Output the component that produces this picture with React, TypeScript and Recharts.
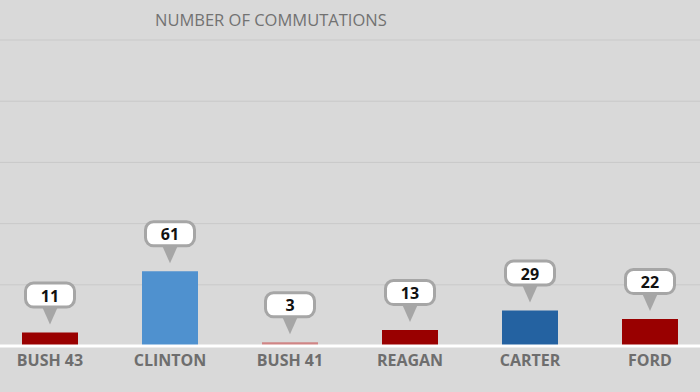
import { BarChart, Bar, XAxis, YAxis, CartesianGrid, Cell, LabelList, ReferenceLine } from "recharts";

const presidents = ["BUSH 43", "CLINTON", "BUSH 41", "REAGAN", "CARTER", "FORD"];
const commutations = [11, 61, 3, 13, 29, 22];
const yTicks = [0, 50, 100, 150, 200, 250];

const COLORS = ["#990000", "#4f91cf", "#cf8585", "#990000", "#2462a1", "#990000"];

const data = presidents.map((name, i) => ({ name, value: commutations[i] }));

const Callout = (props: any) => {
  const vb = props.viewBox || {};
  const x = props.x ?? vb.x;
  const y = props.y ?? vb.y;
  const width = props.width ?? vb.width;
  const cx = x + width / 2;
  const tip = y - 8;
  const boxBottom = tip - 16;
  const boxTop = boxBottom - 27;
  return (
    <g>
      <path
        d={`M${cx - 8},${boxBottom - 2} L${cx + 8},${boxBottom - 2} L${cx},${tip} Z`}
        fill="#a6a6a6"
      />
      <rect
        x={cx - 24.5}
        y={boxTop + 1.5}
        width={49}
        height={24}
        rx={8}
        fill="#fff"
        stroke="#a6a6a6"
        strokeWidth={3}
      />
      <text
        x={cx}
        y={boxTop + 14}
        textAnchor="middle"
        dominantBaseline="central"
        fontFamily="Open Sans"
        fontWeight={700}
        fontSize={16}
        fill="#111"
      >
        {props.value}
      </text>
    </g>
  );
};

export default function App() {
  return (
    <div
      style={{
        position: "fixed",
        top: 0,
        left: 0,
        width: 700,
        height: 392,
        overflow: "hidden",
        background: "#d9d9d9",
      }}
    >
      <div style={{ position: "absolute", left: -10.5, top: 0 }}>
        <BarChart width={720} height={392} data={data} margin={{ top: 40, right: 0, bottom: 0, left: 0 }}>
          <CartesianGrid vertical={false} stroke="#c9c9c9" />
          <YAxis hide domain={[0, 250]} ticks={yTicks} />
          <XAxis
            dataKey="name"
            height={46}
            axisLine={false}
            tickLine={false}
            tickSize={0}
            tickMargin={9}
            tick={{ fill: "#6e6e6e", fontFamily: "Open Sans", fontWeight: 700, fontSize: 16 }}
          />
          <Bar dataKey="value" barSize={56} isAnimationActive={false}>
            {data.map((_, index) => (
              <Cell key={index} fill={COLORS[index % COLORS.length]} />
            ))}
            <LabelList dataKey="value" content={Callout} />
          </Bar>
          <ReferenceLine y={0} stroke="#ffffff" strokeWidth={3} />
        </BarChart>
      </div>
      <div
        style={{
          position: "absolute",
          left: 155,
          top: 9,
          fontFamily: "Open Sans",
          fontSize: 16.5,
          lineHeight: "22px",
          color: "#727272",
          whiteSpace: "nowrap",
        }}
      >
        NUMBER OF COMMUTATIONS
      </div>
    </div>
  );
}
